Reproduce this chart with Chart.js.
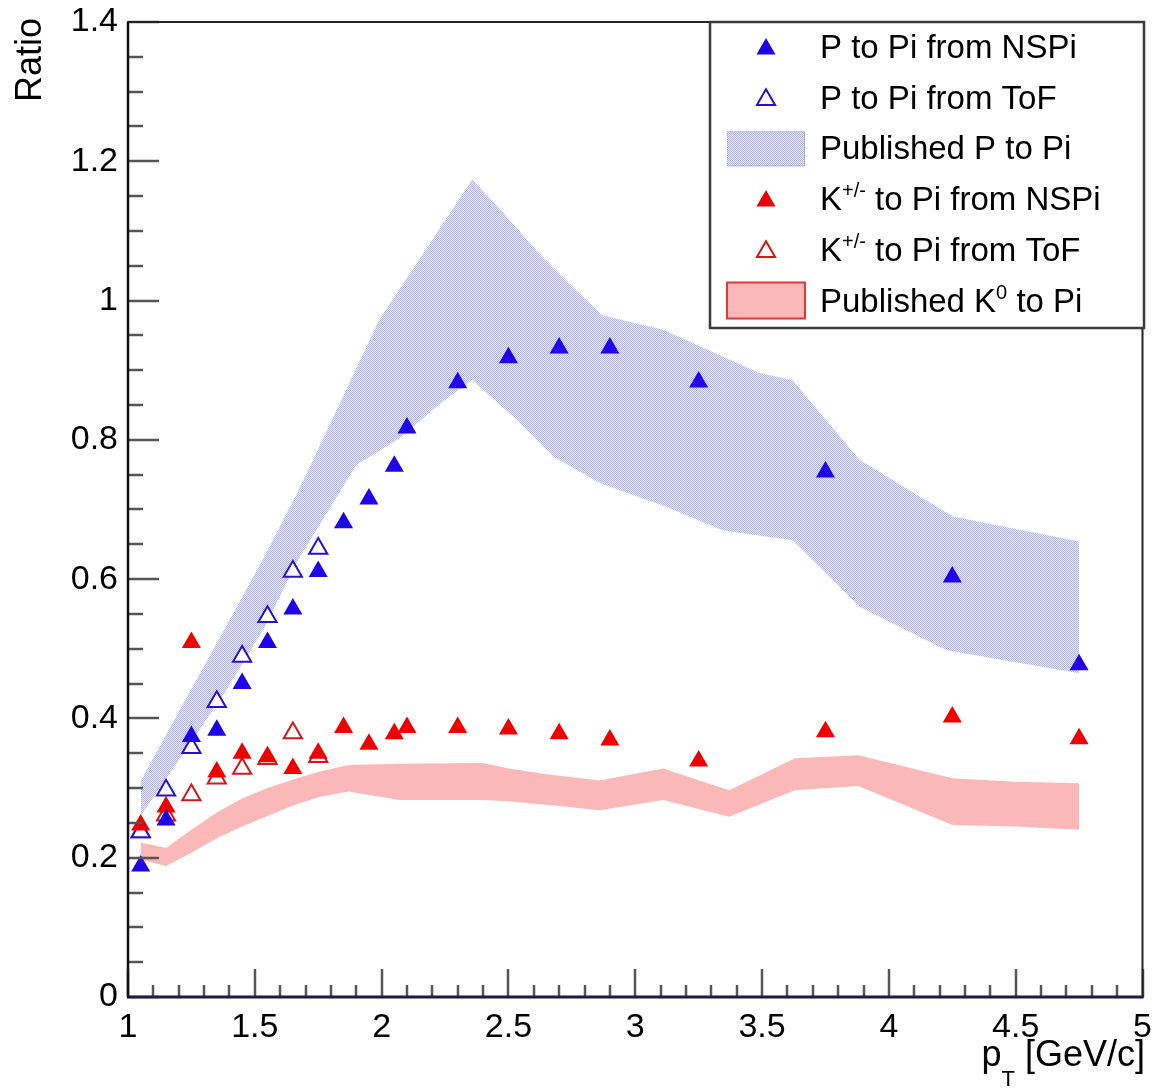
<!DOCTYPE html>
<html>
<head>
<meta charset="utf-8">
<title>Ratio vs pT</title>
<script src="https://cdn.jsdelivr.net/npm/chart.js@4.4.1/dist/chart.umd.min.js"></script>
<style>
  html, body { margin: 0; padding: 0; background: #fff; }
  canvas { display: block; }
</style>
</head>
<body>
<canvas id="ratioChart" width="1155" height="1088"></canvas>
<script>
// values (x = pT [GeV/c], y = ratio)
var pNspiX = [1.05, 1.15, 1.25, 1.35, 1.45, 1.55, 1.65, 1.75, 1.85, 1.95, 2.05, 2.1, 2.3, 2.5, 2.7, 2.9, 3.25, 3.75, 4.25, 4.75];
var pNspiY = [0.188, 0.254, 0.374, 0.383, 0.45, 0.509, 0.557, 0.611, 0.681, 0.715, 0.762, 0.817, 0.882, 0.918, 0.932, 0.932, 0.883, 0.754, 0.603, 0.477];

var pTofX = [1.05, 1.15, 1.25, 1.35, 1.45, 1.55, 1.65, 1.75];
var pTofY = [0.237, 0.297, 0.358, 0.424, 0.489, 0.546, 0.611, 0.644];

var kNspiX = [1.05, 1.15, 1.25, 1.35, 1.45, 1.55, 1.65, 1.75, 1.85, 1.95, 2.05, 2.1, 2.3, 2.5, 2.7, 2.9, 3.25, 3.75, 4.25, 4.75];
var kNspiY = [0.247, 0.273, 0.509, 0.323, 0.35, 0.345, 0.328, 0.35, 0.387, 0.363, 0.378, 0.387, 0.387, 0.385, 0.378, 0.369, 0.339, 0.381, 0.402, 0.371];

var kTofX = [1.05, 1.15, 1.25, 1.35, 1.45, 1.55, 1.65, 1.75];
var kTofY = [0.237, 0.261, 0.29, 0.314, 0.328, 0.342, 0.379, 0.345];

// published p/pi band, upper and lower edge
var pBandUpX = [1.05, 1.53, 1.68, 1.99, 2.357, 2.47, 2.62, 2.78, 2.87, 3.11, 3.49, 3.62, 3.675, 3.885, 4.056, 4.253, 4.75];
var pBandUpY = [0.31, 0.627, 0.733, 0.972, 1.174, 1.13, 1.068, 1.01, 0.979, 0.958, 0.896, 0.886, 0.862, 0.771, 0.733, 0.69, 0.654];
var pBandLoX = [1.05, 1.38, 1.54, 1.67, 1.9, 2.07, 2.23, 2.357, 2.52, 2.676, 2.86, 3.12, 3.346, 3.62, 3.885, 4.227, 4.75];
var pBandLoY = [0.26, 0.436, 0.532, 0.627, 0.764, 0.802, 0.852, 0.886, 0.833, 0.776, 0.738, 0.704, 0.67, 0.656, 0.56, 0.498, 0.465];

// published K0/pi band
var kBandX  = [1.05, 1.15, 1.25, 1.35, 1.45, 1.55, 1.65, 1.75, 1.87, 2.07, 2.4, 2.5, 2.65, 2.86, 3.11, 3.37, 3.63, 3.88, 4.25, 4.5, 4.75];
var kBandHi = [0.222, 0.214, 0.24, 0.265, 0.285, 0.3, 0.312, 0.323, 0.333, 0.335, 0.336, 0.328, 0.32, 0.311, 0.328, 0.297, 0.343, 0.347, 0.314, 0.309, 0.307];
var kBandLo = [0.197, 0.188, 0.207, 0.228, 0.245, 0.26, 0.275, 0.287, 0.295, 0.283, 0.283, 0.281, 0.276, 0.268, 0.283, 0.259, 0.297, 0.303, 0.247, 0.245, 0.24];

var FONT = "'Liberation Sans', Arial, Helvetica, sans-serif";
var blue = '#2000e6';
var red = '#ee0000';
var openBlue = '#2a10c8';
var openRed = '#d01818';
var pink = '#fbb8b8';

function xy(xs, ys) {
    return xs.map(function (x, i) { return {x: x, y: ys[i]}; });
}

// fine dotted fill like the root hatch style
function dotPattern() {
    var c = document.createElement('canvas');
    c.width = 2;
    c.height = 2;
    var g = c.getContext('2d');
    g.fillStyle = 'rgb(232,232,250)';
    g.fillRect(0, 0, 2, 2);
    g.fillStyle = 'rgb(180,180,236)';
    g.fillRect(0, 0, 1, 1);
    g.fillRect(1, 1, 1, 1);
    return g.createPattern(c, 'repeat');
}
var dots = dotPattern();

function triangle(ctx, cx, cy, r) {
    ctx.beginPath();
    ctx.moveTo(cx, cy - r);
    ctx.lineTo(cx + r * 0.866, cy + r / 2);
    ctx.lineTo(cx - r * 0.866, cy + r / 2);
    ctx.closePath();
}

function drawRich(ctx, parts, x, baseline) {
    parts.forEach(function (p) {
        ctx.font = (p.sup ? '20px ' : '33px ') + FONT;
        ctx.fillText(p.t, x, p.sup ? baseline - 13 : baseline);
        x += ctx.measureText(p.t).width;
    });
}

function shortNum(v) {
    return String(Math.round(v * 100) / 100);
}

var legendRows = [
    {mark: 'filled', color: blue, parts: [{t: 'P to Pi from NSPi'}]},
    {mark: 'open', color: openBlue, parts: [{t: 'P to Pi from ToF'}]},
    {mark: 'dots', parts: [{t: 'Published P to Pi'}]},
    {mark: 'filled', color: red, parts: [{t: 'K'}, {t: '+/-', sup: true}, {t: ' to Pi from NSPi'}]},
    {mark: 'open', color: openRed, parts: [{t: 'K'}, {t: '+/-', sup: true}, {t: ' to Pi from ToF'}]},
    {mark: 'box', parts: [{t: 'Published K'}, {t: '0', sup: true}, {t: ' to Pi'}]}
];

var rootFrame = {
    id: 'rootFrame',
    afterDatasetsDraw: function (chart) {
        var ctx = chart.ctx;
        var a = chart.chartArea;
        var xs = chart.scales.x;
        var ys = chart.scales.y;
        var i, p, len;

        ctx.save();
        ctx.strokeStyle = '#555';
        ctx.lineWidth = 2.5;
        ctx.beginPath();
        // y ticks, inside the frame
        for (i = 0; i <= 28; i++) {
            p = Math.round(ys.getPixelForValue(i * 0.05));
            len = (i % 4 === 0) ? 31 : 15;
            ctx.moveTo(a.left, p);
            ctx.lineTo(a.left + len, p);
        }
        // x ticks
        for (i = 0; i <= 40; i++) {
            p = Math.round(xs.getPixelForValue(1 + i * 0.1));
            len = (i % 5 === 0) ? 28 : 12;
            ctx.moveTo(p, a.bottom);
            ctx.lineTo(p, a.bottom - len);
        }
        ctx.stroke();

        // frame
        ctx.strokeStyle = '#222';
        ctx.lineWidth = 2;
        ctx.strokeRect(a.left, a.top, a.right - a.left, a.bottom - a.top);
        ctx.strokeStyle = '#1c1c44';
        ctx.lineWidth = 3;
        ctx.beginPath();
        ctx.moveTo(a.left - 1, a.bottom);
        ctx.lineTo(a.right + 1, a.bottom);
        ctx.stroke();
        ctx.lineWidth = 2.5;
        ctx.strokeStyle = '#111';
        ctx.beginPath();
        ctx.moveTo(a.left, a.top);
        ctx.lineTo(a.left, a.bottom);
        ctx.stroke();
        ctx.restore();
    },
    afterDraw: function (chart) {
        var ctx = chart.ctx;
        ctx.save();
        ctx.fillStyle = '#000';

        // axis titles
        ctx.font = '36px ' + FONT;
        ctx.save();
        ctx.translate(31, 18);
        ctx.rotate(-Math.PI / 2);
        ctx.textAlign = 'right';
        ctx.textBaseline = 'middle';
        ctx.fillText('Ratio', 0, 0);
        ctx.restore();

        ctx.textAlign = 'left';
        ctx.textBaseline = 'alphabetic';
        ctx.font = '36px ' + FONT;
        var wp = ctx.measureText('p').width;
        var wr = ctx.measureText(' [GeV/c]').width;
        ctx.font = '22px ' + FONT;
        var wt = ctx.measureText('T').width;
        var x0 = 1145 - wp - wt - wr;
        ctx.font = '36px ' + FONT;
        ctx.fillText('p', x0, 1066);
        ctx.fillText(' [GeV/c]', x0 + wp + wt, 1066);
        ctx.font = '22px ' + FONT;
        ctx.fillText('T', x0 + wp, 1086);

        // legend box
        var bx = 710, by = 22, bw = 434, bh = 306;
        ctx.fillStyle = '#fff';
        ctx.fillRect(bx, by, bw, bh);
        ctx.strokeStyle = '#3a3a3a';
        ctx.lineWidth = 2.5;
        ctx.strokeRect(bx, by, bw, bh);

        legendRows.forEach(function (row, i) {
            var cy = 47 + i * 50.7;
            var mx = 766;
            if (row.mark === 'filled') {
                triangle(ctx, mx, cy + 2, 11);
                ctx.fillStyle = row.color;
                ctx.fill();
            } else if (row.mark === 'open') {
                triangle(ctx, mx, cy + 2, 10.5);
                ctx.fillStyle = '#fff';
                ctx.fill();
                ctx.strokeStyle = row.color;
                ctx.lineWidth = 2;
                ctx.stroke();
            } else if (row.mark === 'dots') {
                ctx.fillStyle = dots;
                ctx.fillRect(727, cy - 17, 78, 35);
                ctx.save();
                ctx.setLineDash([1, 1]);
                ctx.strokeStyle = 'rgb(150,150,230)';
                ctx.lineWidth = 1;
                ctx.strokeRect(727.5, cy - 16.5, 77, 34);
                ctx.restore();
            } else {
                ctx.fillStyle = pink;
                ctx.fillRect(727, cy - 18, 78, 36);
                ctx.strokeStyle = '#e03a3a';
                ctx.lineWidth = 2;
                ctx.strokeRect(727, cy - 18, 78, 36);
            }
            ctx.fillStyle = '#000';
            drawRich(ctx, row.parts, 820, cy + 11);
        });
        ctx.restore();
    }
};

function bandEdge(label, xs, ys, fill, color, order) {
    return {
        type: 'line',
        label: label,
        data: xy(xs, ys),
        borderWidth: 0,
        borderColor: 'rgba(0,0,0,0)',
        backgroundColor: color,
        pointRadius: 0,
        tension: 0,
        fill: fill,
        order: order
    };
}

function markers(label, xs, ys, open, color, order) {
    return {
        label: label,
        data: xy(xs, ys),
        showLine: false,
        pointStyle: 'triangle',
        pointRadius: open ? 10.5 : 11,
        pointBackgroundColor: open ? '#fff' : color,
        pointBorderColor: color,
        pointBorderWidth: open ? 2 : 0,
        order: order
    };
}

var ctx = document.getElementById('ratioChart');

var myChart = new Chart(ctx, {
    type: 'scatter',
    data: {
        datasets: [
            bandEdge('K0 band top', kBandX, kBandHi, false, pink, 10),
            bandEdge('Published K0 to Pi', kBandX, kBandLo, '-1', pink, 10),
            bandEdge('P band top', pBandUpX, pBandUpY, false, dots, 9),
            bandEdge('Published P to Pi', pBandLoX, pBandLoY, '-1', dots, 9),
            markers('K+/- to Pi from ToF', kTofX, kTofY, true, openRed, 4),
            markers('P to Pi from ToF', pTofX, pTofY, true, openBlue, 3),
            markers('K+/- to Pi from NSPi', kNspiX, kNspiY, false, red, 2),
            markers('P to Pi from NSPi', pNspiX, pNspiY, false, blue, 1)
        ]
    },
    options: {
        responsive: false,
        devicePixelRatio: 1,
        animation: false,
        events: [],
        layout: {
            padding: {top: 22, right: 12, left: 0, bottom: 0}
        },
        plugins: {
            legend: {display: false},
            tooltip: {enabled: false}
        },
        scales: {
            x: {
                type: 'linear',
                min: 1,
                max: 5,
                grid: {display: false, drawTicks: false},
                border: {display: false},
                ticks: {
                    stepSize: 0.5,
                    autoSkip: false,
                    maxRotation: 0,
                    padding: 10,
                    color: '#000',
                    font: {family: FONT, size: 34},
                    callback: shortNum
                },
                afterFit: function (scale) {
                    scale.height = 91;
                    scale.paddingLeft = 0;
                    scale.paddingRight = 0;
                }
            },
            y: {
                type: 'linear',
                min: 0,
                max: 1.4,
                grid: {display: false, drawTicks: false},
                border: {display: false},
                ticks: {
                    stepSize: 0.2,
                    padding: 10,
                    color: '#000',
                    font: {family: FONT, size: 34},
                    callback: shortNum
                },
                afterFit: function (scale) {
                    scale.width = 128;
                    scale.paddingTop = 0;
                    scale.paddingBottom = 0;
                }
            }
        }
    },
    plugins: [rootFrame]
});
</script>
</body>
</html>
